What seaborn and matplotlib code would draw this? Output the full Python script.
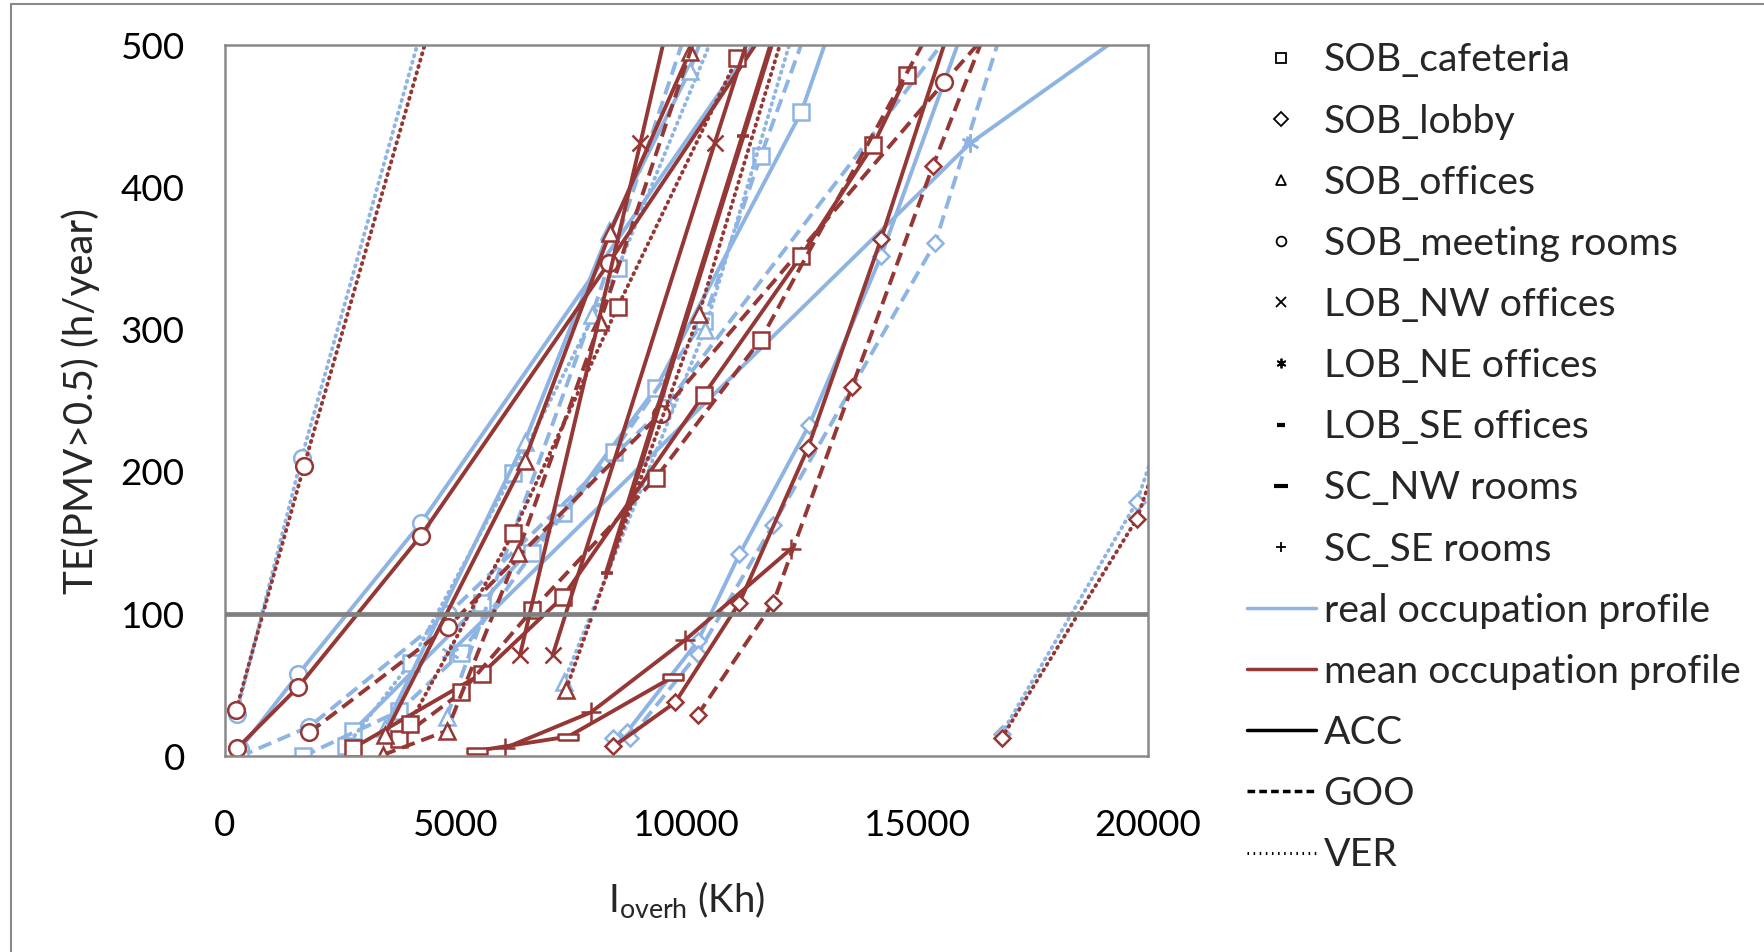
import numpy as np
import pandas as pd
import matplotlib
matplotlib.use("Agg")
import matplotlib.pyplot as plt
from matplotlib.lines import Line2D
import seaborn as sns

# =========================
# DATA
# =========================

zones = ["SOB_cafeteria", "SOB_lobby", "SOB_offices", "SOB_meeting rooms",
         "LOB_NW offices", "LOB_NE offices", "LOB_SE offices",
         "SC_NW rooms", "SC_SE rooms"]

# SOB_meeting rooms
meet_ver_real_x = [250, 1660, 4510]
meet_ver_real_y = [30, 210, 540]
meet_ver_mean_x = [244, 1710, 4680]
meet_ver_mean_y = [33, 204, 540]
meet_acc_real_x = [320, 1590, 4240, 12290]
meet_acc_real_y = [5, 58, 164, 540]
meet_acc_mean_x = [270, 1590, 4240, 8320, 12320]
meet_acc_mean_y = [6, 49, 155, 347, 540]
meet_goo_real_x = [320, 1830, 4830, 9510, 16460]
meet_goo_real_y = [0, 21, 100, 245, 540]
meet_goo_mean_x = [1830, 4830, 9440, 15590, 17390]
meet_goo_mean_y = [17, 91, 241, 474, 540]

# SOB_cafeteria
caf_acc_real_x = [2780, 5560, 7320, 9340, 12490, 13420]
caf_acc_real_y = [18, 108, 171, 259, 453, 540]
caf_acc_mean_x = [2780, 5560, 7320, 10370, 12490, 14050, 14780]
caf_acc_mean_y = [6, 58, 112, 254, 352, 430, 479]
caf_goo_real_x = [1680, 3780, 5120, 6660, 8420, 10370, 11610, 12930]
caf_goo_real_y = [0, 32, 73, 143, 214, 306, 422, 540]
caf_goo_mean_x = [3760, 5120, 6660, 9340, 11610, 15780]
caf_goo_mean_y = [12, 45, 103, 196, 293, 540]
caf_ver_real_x = [2630, 4020, 6240, 8510, 11000]
caf_ver_real_y = [7, 66, 199, 343, 540]
caf_ver_mean_x = [4000, 6240, 8510, 11100]
caf_ver_mean_y = [23, 157, 316, 491]

# SOB_lobby
lob_acc_real_x = [8415, 8707, 10244, 11146, 12659, 14220, 16320]
lob_acc_real_y = [13, 17, 81, 142, 233, 352, 540]
lob_acc_mean_x = [8415, 9756, 11146, 12634, 14220, 15980]
lob_acc_mean_y = [7, 38, 108, 217, 364, 540]
lob_goo_real_x = [8780, 10240, 11880, 15390, 17120]
lob_goo_real_y = [13, 72, 163, 361, 540]
lob_goo_mean_x = [10240, 11880, 13590, 15340, 16850]
lob_goo_mean_y = [29, 108, 260, 415, 540]
lob_ver_real_x = [16830, 19760, 20500]
lob_ver_real_y = [16, 179, 250]
lob_ver_mean_x = [16830, 19760, 20500]
lob_ver_mean_y = [13, 167, 237]

# SOB_offices
off_acc_real_x = [3460, 6490, 8320, 10070, 10730]
off_acc_real_y = [20, 221, 369, 482, 540]
off_acc_mean_x = [3460, 6490, 8340, 10070, 10460]
off_acc_mean_y = [15, 208, 368, 495, 540]
off_goo_real_x = [4805, 7950, 10300]
off_goo_real_y = [28, 310, 540]
off_goo_mean_x = [3415, 4805, 6340, 8120, 10540]
off_goo_mean_y = [1, 18, 143, 305, 540]
off_ver_real_x = [7340, 10400, 12500]
off_ver_real_y = [52, 300, 530]
off_ver_mean_x = [7390, 10270, 12300]
off_ver_mean_y = [47, 311, 530]

# LOB / SC zones
nw_acc_mean_x = [6390, 9000, 9630]
nw_acc_mean_y = [71, 431, 520]
nw_acc_mean2_x = [7098, 10610, 11585]
nw_acc_mean2_y = [71, 431, 530]
ne_acc_real_x = [4880, 16150, 20220]
ne_acc_real_y = [73, 431, 525]
se_acc_mean_x = [8270, 11220, 12120]
se_acc_mean_y = [129, 436, 530]
scnw_acc_mean_x = [5463, 7439, 9707]
scnw_acc_mean_y = [4, 14, 56]
scse_acc_mean_x = [6073, 7927, 9976, 12268]
scse_acc_mean_y = [6, 31, 82, 146]

series = [
    ("SOB_meeting rooms", "real", "VER", meet_ver_real_x, meet_ver_real_y),
    ("SOB_meeting rooms", "real", "ACC", meet_acc_real_x, meet_acc_real_y),
    ("SOB_meeting rooms", "real", "GOO", meet_goo_real_x, meet_goo_real_y),
    ("SOB_cafeteria", "real", "ACC", caf_acc_real_x, caf_acc_real_y),
    ("SOB_cafeteria", "real", "GOO", caf_goo_real_x, caf_goo_real_y),
    ("SOB_cafeteria", "real", "VER", caf_ver_real_x, caf_ver_real_y),
    ("SOB_lobby", "real", "ACC", lob_acc_real_x, lob_acc_real_y),
    ("SOB_lobby", "real", "GOO", lob_goo_real_x, lob_goo_real_y),
    ("SOB_lobby", "real", "VER", lob_ver_real_x, lob_ver_real_y),
    ("SOB_offices", "real", "ACC", off_acc_real_x, off_acc_real_y),
    ("SOB_offices", "real", "GOO", off_goo_real_x, off_goo_real_y),
    ("SOB_offices", "real", "VER", off_ver_real_x, off_ver_real_y),
    ("LOB_NE offices", "real", "ACC", ne_acc_real_x, ne_acc_real_y),
    ("SOB_meeting rooms", "mean", "VER", meet_ver_mean_x, meet_ver_mean_y),
    ("SOB_meeting rooms", "mean", "ACC", meet_acc_mean_x, meet_acc_mean_y),
    ("SOB_meeting rooms", "mean", "GOO", meet_goo_mean_x, meet_goo_mean_y),
    ("SOB_cafeteria", "mean", "ACC", caf_acc_mean_x, caf_acc_mean_y),
    ("SOB_cafeteria", "mean", "GOO", caf_goo_mean_x, caf_goo_mean_y),
    ("SOB_cafeteria", "mean", "VER", caf_ver_mean_x, caf_ver_mean_y),
    ("SOB_lobby", "mean", "ACC", lob_acc_mean_x, lob_acc_mean_y),
    ("SOB_lobby", "mean", "GOO", lob_goo_mean_x, lob_goo_mean_y),
    ("SOB_lobby", "mean", "VER", lob_ver_mean_x, lob_ver_mean_y),
    ("SOB_offices", "mean", "ACC", off_acc_mean_x, off_acc_mean_y),
    ("SOB_offices", "mean", "GOO", off_goo_mean_x, off_goo_mean_y),
    ("SOB_offices", "mean", "VER", off_ver_mean_x, off_ver_mean_y),
    ("LOB_NW offices", "mean", "ACC", nw_acc_mean_x, nw_acc_mean_y),
    ("LOB_NW offices", "mean", "ACC", nw_acc_mean2_x, nw_acc_mean2_y),
    ("LOB_SE offices", "mean", "ACC", se_acc_mean_x, se_acc_mean_y),
    ("SC_NW rooms", "mean", "ACC", scnw_acc_mean_x, scnw_acc_mean_y),
    ("SC_SE rooms", "mean", "ACC", scse_acc_mean_x, scse_acc_mean_y),
]

x_ticks = [0, 5000, 10000, 15000, 20000]
y_ticks = [0, 100, 200, 300, 400, 500]
limit_value = 100

# =========================
# STYLE
# =========================

BLUE = "#8EB4E3"
RED = "#953735"
GRID = "#898989"

colors = {"real": BLUE, "mean": RED}
dashes = {"ACC": None, "GOO": (3.5, 1.8), "VER": (0.3, 1.4)}
bar = [(-1, -0.3), (1, -0.3), (1, 0.3), (-1, 0.3), (-1, -0.3)]
markers = {
    "SOB_cafeteria": ("s", 11),
    "SOB_lobby": ("D", 8.5),
    "SOB_offices": ("^", 12),
    "SOB_meeting rooms": ("o", 12),
    "LOB_NW offices": ("x", 12),
    "LOB_NE offices": ((6, 2, 0), 13),
    "LOB_SE offices": ("_", 9),
    "SC_NW rooms": (bar, 14),
    "SC_SE rooms": ("+", 14),
}

sns.set_style("white")
plt.rcParams["font.family"] = ["Lato", "DejaVu Sans"]
plt.rcParams["mathtext.fontset"] = "custom"
plt.rcParams["mathtext.rm"] = "Lato"

fig = plt.figure(figsize=(17.65, 9.52), dpi=100)
ax = fig.add_axes([0.1275, 0.2054, 0.5229, 0.7473])

# =========================
# DRAW SERIES
# =========================

for zone, prof, meth, xs, ys in series:
    df = pd.DataFrame({"x": xs, "y": ys})
    m, ms = markers[zone]
    c = colors[prof]
    sns.lineplot(data=df, x="x", y="y", sort=False, estimator=None, ax=ax,
                 color=c, lw=2.8, marker=m, markersize=ms,
                 markerfacecolor="white", markeredgecolor=c,
                 markeredgewidth=1.8)
    line = ax.lines[-1]
    if zone == "LOB_SE offices":
        line.set_linewidth(3.8)
        line.set_markeredgewidth(2.6)
    if dashes[meth] is not None:
        line.set_dashes(dashes[meth])
        line.set_dash_capstyle("round" if meth == "VER" else "butt")

ax.axhline(limit_value, color="#808080", lw=3.4, zorder=10)

ax.set_xlim(0, 20000)
ax.set_ylim(0, 500)
ax.set_xticks(x_ticks)
ax.set_yticks(y_ticks)
ax.tick_params(axis="both", direction="in", length=8, width=1.5,
               color=GRID, labelsize=26.5, labelcolor="black")
ax.tick_params(axis="x", pad=38)
ax.tick_params(axis="y", pad=29)
for sp in ax.spines.values():
    sp.set_color(GRID)
    sp.set_linewidth(1.8)

ax.set_xlabel(r"I$_{\mathregular{overh}}$ (Kh)", fontsize=27.5)
ax.set_ylabel("TE(PMV>0.5) (h/year)", fontsize=29)
ax.xaxis.set_label_coords(0.5, -0.173)
ax.yaxis.set_label_coords(-0.135, 0.5)

# =========================
# LEGEND
# =========================

handles = []
for zone in zones:
    m, ms = markers[zone]
    if zone in ("LOB_SE offices", "SC_NW rooms"):
        handles.append(Line2D([], [], ls="none", marker="_",
                              ms=6 if zone == "LOB_SE offices" else 10,
                              mec="black", mew=3))
    else:
        handles.append(Line2D([], [], ls="none", marker=m, ms=7,
                              mfc="white", mec="black", mew=1.3))
handles.append(Line2D([], [], color=BLUE, lw=2.5))
handles.append(Line2D([], [], color=RED, lw=2.5))
handles.append(Line2D([], [], color="black", lw=2.5))
handles.append(Line2D([], [], color="black", lw=2.5, dashes=(2.2, 1.2)))
handles.append(Line2D([], [], color="black", lw=2.2, dashes=(0.5, 1.5)))
labels = zones + ["real occupation profile", "mean occupation profile",
                  "ACC", "GOO", "VER"]

fig.legend(handles, labels, loc="upper left", bbox_to_anchor=(0.7065, 0.9555),
           frameon=False, fontsize=28.3, handlelength=1.75, handletextpad=0.2,
           labelspacing=0.64, borderpad=0, borderaxespad=0)

# outer chart border (left and top)
fig.add_artist(Line2D([0.0064, 0.0064], [0, 0.9953], color=GRID, lw=1.5))
fig.add_artist(Line2D([0.0064, 1], [0.9953, 0.9953], color=GRID, lw=1.5))

fig.savefig("out.png", dpi=100)
